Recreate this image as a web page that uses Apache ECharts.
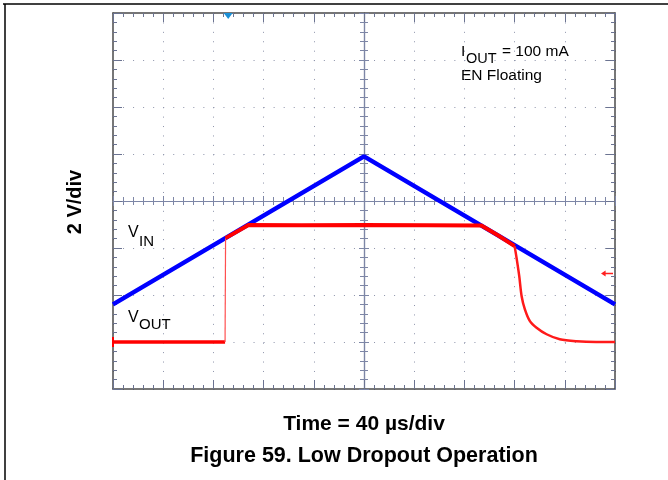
<!DOCTYPE html>
<html>
<head>
<meta charset="utf-8">
<script src="https://cdn.jsdelivr.net/npm/echarts@6/dist/echarts.min.js"></script>
<style>
html,body{margin:0;padding:0;background:#fff;}
#chart{width:668px;height:480px;}
</style>
</head>
<body>
<div id="chart"></div>
<script>
// ---- data (time in µs, voltage in V; 40 µs/div, 2 V/div) ----
const vinTime = [0, 200, 400];
const vinVolt = [1.6, 7.9, 1.6];

const voutLowTime = [0, 89.3];
const voutLowVolt = [0, 0];

const voutJumpTime = [89.3, 89.7];
const voutJumpVolt = [0, 4.42];

const voutHighTime = [89.7, 108, 150, 200, 250, 293.5, 307, 320];
const voutHighVolt = [4.42, 4.98, 4.97, 4.98, 4.97, 4.96, 4.53, 4.08];

const voutDecayTime = [320, 321.5, 323.7, 325.6, 328.2, 332.2, 337.5, 345.5, 356, 369.4, 385, 400];
const voutDecayVolt = [4.08, 3.6, 2.8, 1.95, 1.39, 0.89, 0.61, 0.33, 0.115, 0.03, 0.0, 0.0];

const triggerTime = [91.8];
const triggerLevel = [2.92];

const xTicks = [0, 40, 80, 120, 160, 200, 240, 280, 320, 360, 400];
const yTicks = [-2, 0, 2, 4, 6, 8, 10, 12, 14];

function pairs(t, v) { return t.map((x, i) => [x, v[i]]); }

const chart = echarts.init(document.getElementById('chart'), null, {renderer: 'canvas'});

const G = {left: 113, top: 13, width: 502, height: 376};
const frameColor = '#4a4a4a';
const tickColor = '#6b7391';
const dotColor = '#8d93aa';
const centerColor = '#7d86a6';
const FONT = '"Liberation Sans", Arial, sans-serif';

function frameAxis(pos, isX, showSplit) {
  return {
    gridIndex: 0,
    type: 'value',
    position: pos,
    min: isX ? xTicks[0] : yTicks[0],
    max: isX ? xTicks[xTicks.length - 1] : yTicks[yTicks.length - 1],
    interval: isX ? 40 : 2,
    axisLine: {show: true, onZero: false, lineStyle: {color: frameColor, width: 1.5}},
    axisTick: {show: true, inside: true, length: 9, lineStyle: {color: tickColor, width: 1}},
    minorTick: {show: true, splitNumber: 5, length: 4, lineStyle: {color: tickColor, width: 1}},
    axisLabel: {show: false},
    splitLine: {show: showSplit, lineStyle: {color: dotColor, width: 1, type: isX ? [1, 8.42] : [1, 9.04]}},
    minorSplitLine: {show: false}
  };
}

function centerAxis(pos, isX) {
  return {
    gridIndex: 1,
    type: 'value',
    position: pos,
    min: isX ? -5 : -4,
    max: isX ? 5 : 4,
    interval: 1,
    axisLine: {show: true, onZero: true, lineStyle: {color: centerColor, width: 1.2}},
    axisTick: {show: true, inside: false, length: 5, lineStyle: {color: centerColor, width: 1}},
    minorTick: {show: true, splitNumber: 5, length: 4, lineStyle: {color: centerColor, width: 1}},
    axisLabel: {show: false},
    splitLine: {show: false}
  };
}

const option = {
  backgroundColor: '#ffffff',
  animation: false,
  grid: [
    Object.assign({}, G, {containLabel: false}),
    Object.assign({}, G, {containLabel: false})
  ],
  xAxis: [
    frameAxis('bottom', true, true),
    frameAxis('top', true, false),
    centerAxis('bottom', true),
    centerAxis('top', true)
  ],
  yAxis: [
    frameAxis('left', false, true),
    frameAxis('right', false, false),
    centerAxis('left', false),
    centerAxis('right', false)
  ],
  series: [
    {
      name: 'VIN', type: 'line', xAxisIndex: 0, yAxisIndex: 0,
      data: pairs(vinTime, vinVolt), showSymbol: false, z: 5,
      lineStyle: {color: '#0000ff', width: 4.5},
      markPoint: {
        symbol: 'triangle', symbolSize: [9, 6], symbolRotate: 180, symbolOffset: [0, 3],
        itemStyle: {color: '#1a8fd6'}, label: {show: false},
        data: [{coord: [triggerTime[0], yTicks[yTicks.length - 1]]}]
      }
    },
    {
      name: 'VOUT low', type: 'line', xAxisIndex: 0, yAxisIndex: 0,
      data: pairs(voutLowTime, voutLowVolt), showSymbol: false, z: 6,
      lineStyle: {color: '#ff0000', width: 3.5},
      markPoint: {
        symbol: 'rect', symbolSize: [2, 10], itemStyle: {color: '#ff0000'}, label: {show: false},
        data: [{coord: [0, 0]}]
      }
    },
    {
      name: 'VOUT jump', type: 'line', xAxisIndex: 0, yAxisIndex: 0,
      data: pairs(voutJumpTime, voutJumpVolt), showSymbol: false, z: 6,
      lineStyle: {color: '#ff5050', width: 1.2}
    },
    {
      name: 'VOUT', type: 'line', xAxisIndex: 0, yAxisIndex: 0,
      data: pairs(voutHighTime, voutHighVolt), showSymbol: false, z: 6,
      lineStyle: {color: '#ff0000', width: 4},
      markPoint: {
        symbol: 'path://M0,5 L5,1 L5,4 L13,4 L13,6 L5,6 L5,9 Z', symbolSize: [12, 6],
        symbolOffset: [-8, 0],
        itemStyle: {color: '#ff2020'}, label: {show: false},
        data: [{coord: [xTicks[xTicks.length - 1], triggerLevel[0]]}]
      }
    },
    {
      name: 'VOUT decay', type: 'line', xAxisIndex: 0, yAxisIndex: 0,
      data: pairs(voutDecayTime, voutDecayVolt), showSymbol: false, z: 6, smooth: 0.3,
      lineStyle: {color: '#ff1a1a', width: 2.5}
    }
  ],
  graphic: [
    {type: 'line', shape: {x1: 3, y1: 4, x2: 668, y2: 4}, style: {stroke: '#000', lineWidth: 1.5}, silent: true},
    {type: 'line', shape: {x1: 5, y1: 4, x2: 5, y2: 480}, style: {stroke: '#000', lineWidth: 1.5}, silent: true},
    {type: 'text', x: 75, y: 202, rotation: Math.PI / 2,
      style: {text: '2 V/div', font: 'bold 20px ' + FONT, fill: '#000', textAlign: 'center', textVerticalAlign: 'middle'}},
    {type: 'text', x: 364, y: 424,
      style: {text: 'Time = 40 µs/div', font: 'bold 21px ' + FONT, fill: '#000', textAlign: 'center', textVerticalAlign: 'middle'}},
    {type: 'text', x: 364, y: 456,
      style: {text: 'Figure 59. Low Dropout Operation', font: 'bold 21.5px ' + FONT, fill: '#000', textAlign: 'center', textVerticalAlign: 'middle'}},
    {type: 'text', x: 128, y: 225, style: {text: 'V', font: '16px ' + FONT, fill: '#000'}},
    {type: 'text', x: 139, y: 234, style: {text: 'IN', font: '15px ' + FONT, fill: '#000'}},
    {type: 'text', x: 128, y: 310, style: {text: 'V', font: '16px ' + FONT, fill: '#000'}},
    {type: 'text', x: 139, y: 317, style: {text: 'OUT', font: '15px ' + FONT, fill: '#000'}},
    {type: 'text', x: 461, y: 44, style: {text: 'I', font: '15.5px ' + FONT, fill: '#000'}},
    {type: 'text', x: 466, y: 51, style: {text: 'OUT', font: '14.5px ' + FONT, fill: '#000'}},
    {type: 'text', x: 502, y: 44, style: {text: '= 100 mA', font: '15.5px ' + FONT, fill: '#000'}},
    {type: 'text', x: 461, y: 68, style: {text: 'EN Floating', font: '15.5px ' + FONT, fill: '#000'}}
  ]
};

chart.setOption(option);
</script>
</body>
</html>
